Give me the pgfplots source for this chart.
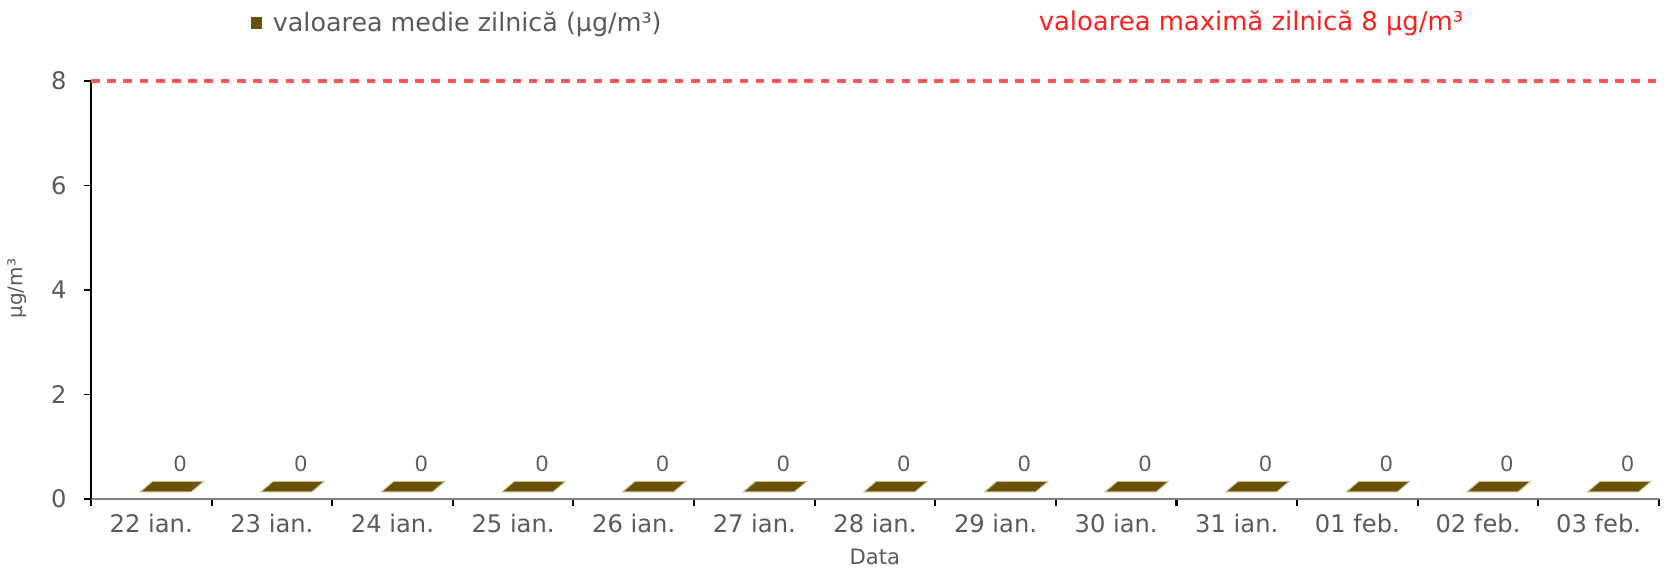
\documentclass[border=0pt]{standalone}
\usepackage{fontspec}
\setmainfont{DejaVu Sans}
\newfontfamily\arialfont{Liberation Sans}
\usepackage{pgfplots}
\pgfplotsset{compat=1.18}
\definecolor{barbrown}{RGB}{105,82,5}
\definecolor{baredge}{RGB}{205,190,150}
\definecolor{txtgray}{RGB}{90,90,90}
\definecolor{limred}{RGB}{255,85,85}
\definecolor{titlered}{RGB}{255,30,30}
\pgfdeclareplotmark{para}{%
 \pgfpathmoveto{\pgfpoint{-4.7pt}{3.0pt}}%
 \pgfpathlineto{\pgfpoint{17.0pt}{3.0pt}}%
 \pgfpathlineto{\pgfpoint{22.3pt}{7.5pt}}%
 \pgfpathlineto{\pgfpoint{0.6pt}{7.5pt}}%
 \pgfpathclose
 \pgfusepathqfillstroke}
\begin{document}
\begin{tikzpicture}
\useasboundingbox (-38.7pt,-29.8pt) rectangle (674.9pt,212.3pt);
\begin{axis}[
 at={(0,0)}, anchor=south west,
 scale only axis, width=667.2pt, height=177.9pt,
 xmin=-0.5, xmax=12.5, ymin=0, ymax=8,
 clip=false,
 axis lines=left,
 x axis line style={-, draw=gray, line width=1.2pt},
 y axis line style={-, draw=black, line width=0.9pt},
 xtick={0,1,2,3,4,5,6,7,8,9,10,11,12},
 xticklabels={22 ian., 23 ian., 24 ian., 25 ian., 26 ian., 27 ian., 28 ian., 29 ian., 30 ian., 31 ian., 01 feb., 02 feb., 03 feb.},
 major x tick style={draw=none},
 minor xtick={-0.5,0.5,1.5,2.5,3.5,4.5,5.5,6.5,7.5,8.5,9.5,10.5,11.5,12.5},
 minor x tick style={black, line width=0.9pt},
 minor tick length=3pt,
 major tick length=3pt,
 tick align=outside,
 ytick={0,2,4,6,8},
 major y tick style={black, line width=0.6pt},
 /pgf/number format/assume math mode=true,
 ticklabel style={font=\fontsize{10.3}{12}\selectfont, text=txtgray},
 yticklabel style={xshift=-3.9pt},
 xlabel={Data},
 xlabel style={at={(axis description cs:0.5,0)}, anchor=center, yshift=-24.7pt, font=\fontsize{9}{11}\selectfont, text=txtgray},
 ylabel={µg/m³},
 ylabel style={at={(axis description cs:-0.0472,0.503)}, anchor=center, font=\fontsize{8.5}{10}\selectfont, text=txtgray},
 legend style={draw=none, fill=none, inner sep=0pt, anchor=west,
   at={(axis description cs:0.1015,1.1377)}, font=\fontsize{10.8}{12}\selectfont, text=txtgray,
   /tikz/every even column/.append style={column sep=0pt},
   nodes={inner xsep=4.6pt}},
 legend cell align=left,
]
\addplot[limred, line width=1.5pt, dash pattern=on 3.7pt off 3.2pt, forget plot] coordinates {(-0.5,8) (12.5,8)};
\addplot[only marks, mark=para, mark options={fill=barbrown, draw=baredge, line width=0.4pt},
  legend image code/.code={\fill[barbrown] (0pt,-2.2pt) rectangle (4.5pt,2.3pt);},
  point meta=y,
  nodes near coords,
  nodes near coords style={anchor=center, xshift=12.3pt, yshift=15.1pt, font=\arialfont\fontsize{9.5}{10}\selectfont, text=txtgray, /pgf/number format/assume math mode=true}]
 coordinates {(0,0) (1,0) (2,0) (3,0) (4,0) (5,0) (6,0) (7,0) (8,0) (9,0) (10,0) (11,0) (12,0)};
\addlegendentry{valoarea medie zilnică (µg/m³)}
\node[text=titlered, font=\fontsize{11}{13}\selectfont] at (axis description cs:0.7398,1.1377) {valoarea maximă zilnică 8 µg/m³};
\end{axis}
\end{tikzpicture}
\end{document}
